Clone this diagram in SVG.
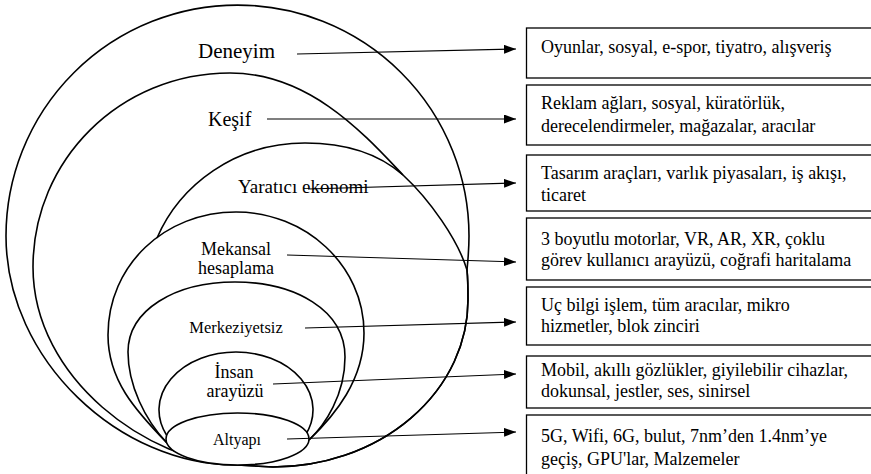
<svg xmlns="http://www.w3.org/2000/svg" width="871" height="474" viewBox="0 0 871 474">
<defs>
<style>
.sh{fill:none;stroke:#000;stroke-width:1.6}
.lbl{font-family:"Liberation Serif","Times New Roman",serif;fill:#000}
.box{fill:#fff;stroke:#000;stroke-width:1.3}
.bt{font-family:"Liberation Serif","Times New Roman",serif;font-size:18px;fill:#000}
.cn{fill:none;stroke:#000;stroke-width:1.1;marker-end:url(#ah)}
</style>
<marker id="ah" markerUnits="userSpaceOnUse" markerWidth="13" markerHeight="10" refX="12" refY="4.5" orient="auto">
<path d="M0,0 L12,4.5 L0,9 Z" fill="#000"/>
</marker>
</defs>
<rect width="871" height="474" fill="#fff"/>

<g id="deneyim">
<path class="sh" d="M237,465 C120,466 6,360 6,236 A231.5 231 0 0 1 469,236 C469,250 468,260 467,270 C468,280 468,290 468,300 A195 167 0 0 1 273,467 L237,465 Z"/>
<text class="lbl" x="198" y="58" font-size="21">Deneyim</text>
</g>
<g id="kesif">
<path class="sh" d="M237,465 C150,462 33,380 33,267 C33,160 120,73 230,73 C310,73 365,135 403,175 C430,200 458,240 467,270 C468,280 468,290 468,300 A195 167 0 0 1 273,467 L237,465 Z"/>
<text class="lbl" x="208" y="126" font-size="20">Keşif</text>
</g>
<g id="yaratici">
<path class="sh" d="M157,238 C180,185 235,143 305,143 C345,143 378,153 403,175"/>
<text class="lbl" x="238" y="193" font-size="19">Yaratıcı ekonomi</text>
</g>
<g id="mekansal">
<path class="sh" d="M167,443 C135,410 108,380 108,335 C108,265 165,212 236,212 C305,212 364,265 364,333 C364,380 335,415 309,440"/>
<text class="lbl" x="236" y="255" font-size="18" text-anchor="middle">Mekansal</text>
<text class="lbl" x="236" y="274" font-size="18" text-anchor="middle">hesaplama</text>
</g>
<g id="merkeziyetsiz">
<path class="sh" d="M167,443 C145,420 128,385 128,352 C128,310 175,282 235,282 C295,282 345,310 345,357 C345,395 325,425 309,440"/>
<text class="lbl" x="236" y="333" font-size="16.5" text-anchor="middle">Merkeziyetsiz</text>
</g>
<g id="insan">
<path class="sh" d="M166.5,435 A77 58 0 1 1 305.5,435"/>
<text class="lbl" x="234" y="378" font-size="18" text-anchor="middle">İnsan</text>
<text class="lbl" x="235" y="397" font-size="18" text-anchor="middle">arayüzü</text>
</g>
<g id="altyapi">
<ellipse cx="237.5" cy="439" rx="71.5" ry="26" fill="#fff" stroke="#000" stroke-width="1.6"/>
<text class="lbl" x="237" y="445" font-size="16" text-anchor="middle">Altyapı</text>
</g>

<g id="box1"><rect class="box" x="526.5" y="28" width="400" height="50"/><text class="bt" x="541" y="53">Oyunlar, sosyal, e-spor, tiyatro, alışveriş</text></g>
<g id="box2"><rect class="box" x="526.5" y="85" width="400" height="60"/><text class="bt" x="541" y="109">Reklam ağları, sosyal, küratörlük,</text><text class="bt" x="541" y="132">derecelendirmeler, mağazalar, aracılar</text></g>
<g id="box3"><rect class="box" x="526.5" y="155" width="400" height="56"/><text class="bt" x="541" y="179">Tasarım araçları, varlık piyasaları, iş akışı,</text><text class="bt" x="541" y="201">ticaret</text></g>
<g id="box4"><rect class="box" x="526.5" y="218" width="400" height="62"/><text class="bt" x="541" y="245">3 boyutlu motorlar, VR, AR, XR, çoklu</text><text class="bt" x="541" y="266">görev kullanıcı arayüzü, coğrafi haritalama</text></g>
<g id="box5"><rect class="box" x="526.5" y="287" width="400" height="58"/><text class="bt" x="541" y="311">Uç bilgi işlem, tüm aracılar, mikro</text><text class="bt" x="541" y="332">hizmetler, blok zinciri</text></g>
<g id="box6"><rect class="box" x="526.5" y="356" width="400" height="52"/><text class="bt" x="541" y="376">Mobil, akıllı gözlükler, giyilebilir cihazlar,</text><text class="bt" x="541" y="397">dokunsal, jestler, ses, sinirsel</text></g>
<g id="box7"><rect class="box" x="526.5" y="415" width="400" height="80"/><text class="bt" x="541" y="442">5G, Wifi, 6G, bulut, 7nm’den 1.4nm’ye</text><text class="bt" x="541" y="465">geçiş, GPU'lar, Malzemeler</text></g>

<g id="connectors">
<line class="cn" x1="297" y1="54" x2="516" y2="49"/>
<line class="cn" x1="267" y1="119" x2="516" y2="119"/>
<line class="cn" x1="308" y1="189" x2="516" y2="183"/>
<line class="cn" x1="287" y1="255" x2="516" y2="262"/>
<line class="cn" x1="305" y1="328" x2="516" y2="322"/>
<line class="cn" x1="273" y1="384" x2="516" y2="374"/>
<line class="cn" x1="287" y1="439" x2="516" y2="432"/>
</g>
</svg>
